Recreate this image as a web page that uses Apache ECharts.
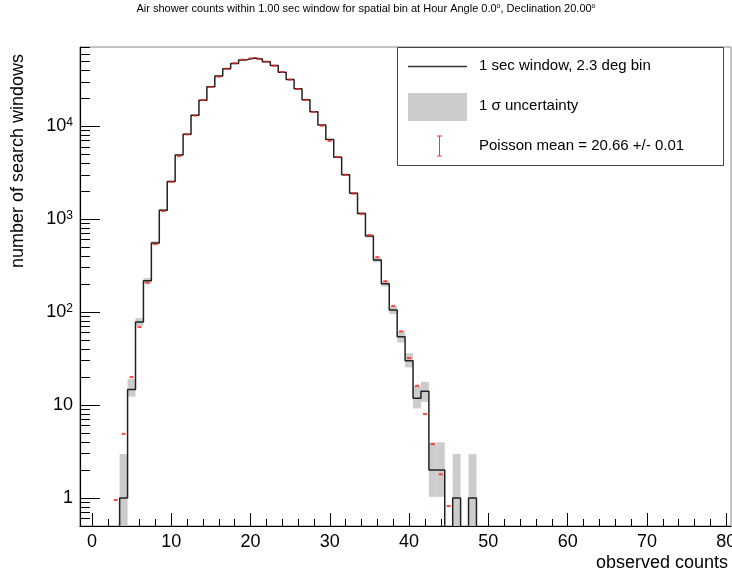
<!DOCTYPE html>
<html><head><meta charset="utf-8">
<script src="https://cdn.jsdelivr.net/npm/echarts@6/dist/echarts.min.js"></script>
<style>html,body{margin:0;padding:0;background:#fff}#c{width:732px;height:577px}</style>
</head><body><div id="c"></div>
<script>
// ---- data ----
const bins   = [4,5,6,7,8,9,10,11,12,13,14,15,16,17,18,19,20,21,22,23,24,25,26,27,28,29,30,31,32,33,34,35,36,37,38,39,40,41,42,43,44,45,46,47,48];
const counts = [1,14.7,78,217,555,1247,2535,4890,8170,13100,19000,26500,34600,41500,47300,51600,54000,52700,49400,44900,38100,31800,25300,19200,14300,10300,7170,4640,3000,1900,1150,659,363,202,105,54.3,29.9,11.8,14.1,2,2,0,1,0,1];
const sigLo  = [0,12.3,71,202,532,1212,2485,4820,8080,12990,18860,26340,34410,41300,47080,51370,53770,52470,49180,44690,37900,31620,25140,19060,14180,10200,7085,4572,2945,1856,1116,633,344,188,95,47,25.4,9.2,10.8,1.03,1.03,0,0,0,0];
const sigHi  = [2.97,19.0,86,232,578,1282,2585,4960,8260,13210,19140,26660,34790,41700,47520,51830,54230,52930,49620,45110,38300,31980,25460,19340,14420,10400,7255,4708,3055,1944,1184,685,382,216,115,62,36,16,17.8,3.97,3.97,0,2.97,0,2.97];
const poissonBins = [3,4,5,6,7,8,9,10,11,12,13,14,15,16,17,18,19,20,21,22,23,24,25,26,27,28,29,30,31,32,33,34,35,36,37,38,39,40,41,42,43,44,45];
const poissonVals = [0.95,4.9,20,69,207,537,1220,2520,4750,8150,13000,19100,26400,34100,41500,47600,51800,53500,52700,49500,44500,38300,31600,25100,19200,14200,10100,6950,4650,3000,1880,1140,672,390,215,116,62,32,16.1,8.0,3.8,1.8,0.82];
const xTickLabels = [0,10,20,30,40,50,60,70,80];
const yTickLabels = [1,10,100,1000,10000];

const X_MIN = -1.5, X_MAX = 80.6, Y_MIN = 0.5, Y_MAX = 71000, FLOOR = 0.3;
const FONT = 'Liberation Sans, Arial, Helvetica, sans-serif';

// minor ticks
const xMinor = [];
for (let v = 0; v <= 80; v += 2) xMinor.push(v);
const yMinor = [];
for (let e = -1; e <= 4; e++) for (let m = 2; m <= 9; m++) { const v = m * Math.pow(10, e); if (v > Y_MIN && v < Y_MAX) yMinor.push(v); }

// histogram step outline
const stepData = [[X_MIN, FLOOR], [bins[0] - 0.5, FLOOR]];
bins.forEach((b, i) => { const v = counts[i] > 0 ? counts[i] : FLOOR; stepData.push([b - 0.5, v], [b + 0.5, v]); });
stepData.push([bins[bins.length - 1] + 0.5, FLOOR], [X_MAX, FLOOR]);

const chart = echarts.init(document.getElementById('c'), null, {renderer: 'canvas'});
const xBase = {type: 'value', min: X_MIN, max: X_MAX, position: 'bottom', splitLine: {show: false}};
const yBase = {type: 'log', logBase: 10, min: Y_MIN, max: Y_MAX, position: 'left', splitLine: {show: false}};

chart.setOption({
  animation: false,
  grid: {left: 80, right: 1, top: 47, bottom: 51, show: true, borderColor: '#888', borderWidth: 1, containLabel: false, outerBoundsMode: 'none'},
  xAxis: [
    Object.assign({}, xBase, {
      axisLine: {show: true, onZero: false, lineStyle: {color: '#000', width: 1.2}},
      axisTick: {show: true, inside: true, length: 13, customValues: xTickLabels, lineStyle: {color: '#000', width: 1}},
      axisLabel: {show: true, customValues: xTickLabels, fontSize: 18, color: '#000', fontFamily: FONT, margin: 7}
    }),
    Object.assign({}, xBase, {
      axisLine: {show: false, onZero: false},
      axisTick: {show: true, inside: true, length: 7, customValues: xMinor, lineStyle: {color: '#000', width: 1}},
      axisLabel: {show: false}
    })
  ],
  yAxis: [
    Object.assign({}, yBase, {
      axisLine: {show: true, onZero: false, lineStyle: {color: '#000', width: 1.2}},
      axisTick: {show: true, inside: true, length: 20, customValues: yTickLabels, lineStyle: {color: '#000', width: 1}},
      axisLabel: {show: true, customValues: yTickLabels, fontSize: 18, color: '#000', fontFamily: FONT, margin: 7,
        formatter: function (v) { const e = Math.round(Math.log10(v)); if (e <= 1) return String(Math.round(v)); return '10{sup|' + e + '}'; },
        rich: {sup: {fontSize: 12, fontFamily: FONT, color: '#000', verticalAlign: 'top', lineHeight: 12}}
      }
    }),
    Object.assign({}, yBase, {
      axisLine: {show: false, onZero: false},
      axisTick: {show: true, inside: true, length: 10, customValues: yMinor, lineStyle: {color: '#000', width: 1}},
      axisLabel: {show: false}
    })
  ],
  series: [
    {
      type: 'custom', xAxisIndex: 0, yAxisIndex: 0, z: 1,
      data: bins.map((b, i) => [b, sigLo[i], sigHi[i]]),
      renderItem: function (params, api) {
        const b = api.value(0), lo = api.value(1), hi = api.value(2);
        if (!(hi > 0)) return null;
        const p1 = api.coord([b - 0.5, Math.max(lo, Y_MIN)]);
        const p2 = api.coord([b + 0.5, hi]);
        return {type: 'rect', shape: {x: p1[0], y: p2[1], width: p2[0] - p1[0], height: p1[1] - p2[1]}, style: {fill: '#cccccc'}};
      }
    },
    {
      type: 'line', xAxisIndex: 0, yAxisIndex: 0, z: 2, data: stepData, showSymbol: false, symbol: 'none', clip: true,
      lineStyle: {color: '#222', width: 1.5}
    },
    {
      type: 'scatter', xAxisIndex: 0, yAxisIndex: 0, z: 3,
      data: poissonBins.map((b, i) => [b, poissonVals[i]]),
      symbol: 'rect', symbolSize: [4, 2], itemStyle: {color: '#ff1a1a'}
    }
  ],
  graphic: [
    {type: 'text', left: 'center', top: 3, style: {text: 'Air shower counts within 1.00 sec window for spatial bin at Hour Angle 0.0{s|o}, Declination 20.00{s|o}', font: '11px ' + FONT, fill: '#000',
      rich: {s: {fontSize: 7, verticalAlign: 'top', lineHeight: 8, fontFamily: FONT}}}},
    {type: 'text', x: 18, y: 161, rotation: Math.PI / 2, style: {text: 'number of search windows', font: '18px ' + FONT, fill: '#000', align: 'center', verticalAlign: 'middle'}},
    {type: 'text', x: 728, y: 563, style: {text: 'observed counts', font: '18px ' + FONT, fill: '#000', align: 'right', verticalAlign: 'middle'}},
    // legend
    {type: 'rect', z: 10, shape: {x: 397.5, y: 47.5, width: 326, height: 118}, style: {fill: '#fff', stroke: '#444', lineWidth: 1}},
    {type: 'line', z: 11, shape: {x1: 408, y1: 66.5, x2: 467, y2: 66.5}, style: {stroke: '#333', lineWidth: 1.5}},
    {type: 'text', z: 11, x: 479, y: 66, style: {text: '1 sec window, 2.3 deg bin', font: '15px ' + FONT, fill: '#000', verticalAlign: 'middle'}},
    {type: 'rect', z: 11, shape: {x: 408, y: 93, width: 59, height: 28}, style: {fill: '#cccccc'}},
    {type: 'text', z: 11, x: 479, y: 106, style: {text: '1 σ uncertainty', font: '15px ' + FONT, fill: '#000', verticalAlign: 'middle'}},
    {type: 'line', z: 11, shape: {x1: 439.5, y1: 136, x2: 439.5, y2: 156}, style: {stroke: '#f33', lineWidth: 1}},
    {type: 'line', z: 11, shape: {x1: 437, y1: 136, x2: 442, y2: 136}, style: {stroke: '#f33', lineWidth: 1}},
    {type: 'line', z: 11, shape: {x1: 437, y1: 156, x2: 442, y2: 156}, style: {stroke: '#f33', lineWidth: 1}},
    {type: 'text', z: 11, x: 479, y: 146, style: {text: 'Poisson mean = 20.66 +/- 0.01', font: '15px ' + FONT, fill: '#000', verticalAlign: 'middle'}}
  ]
});
</script>
</body></html>
